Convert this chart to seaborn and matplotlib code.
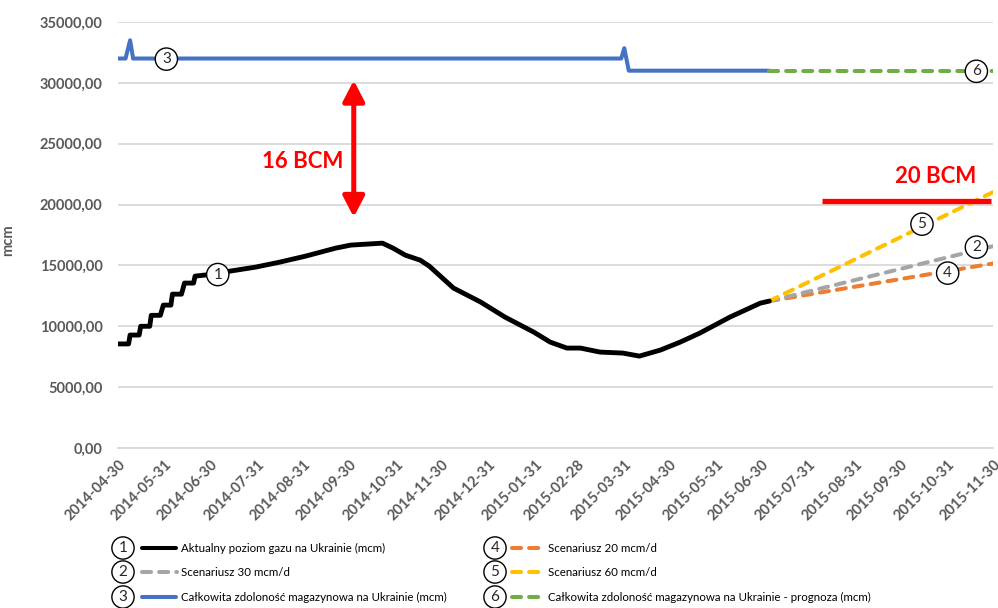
import matplotlib
matplotlib.use("Agg")
import matplotlib.pyplot as plt
from matplotlib.lines import Line2D
from matplotlib.ticker import FuncFormatter
import seaborn as sns
import pandas as pd

# ---------------- data ----------------
actual_dates = ['2014-04-30', '2014-05-07', '2014-05-08', '2014-05-14', '2014-05-15', '2014-05-21',
                '2014-05-22', '2014-05-28', '2014-05-30', '2014-06-04', '2014-06-05', '2014-06-11',
                '2014-06-13', '2014-06-19', '2014-06-20', '2014-07-03', '2014-07-13', '2014-07-30',
                '2014-08-15', '2014-09-01', '2014-09-21', '2014-10-01', '2014-10-22', '2014-10-29',
                '2014-11-06', '2014-11-16', '2014-11-22', '2014-12-08', '2014-12-26', '2015-01-11',
                '2015-01-30', '2015-02-10', '2015-02-21', '2015-03-02', '2015-03-15', '2015-03-30',
                '2015-04-10', '2015-04-24', '2015-05-07', '2015-05-20', '2015-06-09', '2015-06-29',
                '2015-07-05']
actual_values = [8550, 8550, 9280, 9280, 10000, 10000,
                 10900, 10900, 11740, 11740, 12640, 12640,
                 13550, 13550, 14120, 14300, 14530, 14860,
                 15270, 15760, 16420, 16670, 16830, 16420,
                 15850, 15430, 14940, 13140, 11990, 10760,
                 9530, 8700, 8210, 8210, 7880, 7800,
                 7550, 8050, 8700, 9440, 10760, 11900,
                 12070]

capacity_dates = ['2014-04-30', '2014-05-05', '2014-05-08', '2014-05-10', '2015-03-29',
                  '2015-03-31', '2015-04-03', '2015-07-05']
capacity_values = [32000, 32000, 33500, 32000, 32000, 32850, 31000, 31000]

forecast_dates = ['2015-07-05', '2015-11-30']
scen20_values = [12070, 15160]
scen30_values = [12070, 16580]
scen60_values = [12070, 21020]
capacity_fc_values = [31000, 31000]

tick_dates = ['2014-04-30', '2014-05-31', '2014-06-30', '2014-07-31', '2014-08-31', '2014-09-30',
              '2014-10-31', '2014-11-30', '2014-12-31', '2015-01-31', '2015-02-28', '2015-03-31',
              '2015-04-30', '2015-05-31', '2015-06-30', '2015-07-31', '2015-08-31', '2015-09-30',
              '2015-10-31', '2015-11-30']
y_ticks = [0, 5000, 10000, 15000, 20000, 25000, 30000, 35000]

legend_labels = ['Aktualny poziom gazu na Ukrainie (mcm)',
                 'Scenariusz 30 mcm/d',
                 'Całkowita zdoloność magazynowa na Ukrainie (mcm)',
                 'Scenariusz 20 mcm/d',
                 'Scenariusz 60 mcm/d',
                 'Całkowita zdoloność magazynowa na Ukrainie - prognoza (mcm)']

# ---------------- style ----------------
sns.set_style("white")
plt.rcParams['font.family'] = ['Lato', 'DejaVu Sans']

C_BLACK = '#000000'
C_GRAY = '#a5a5a5'
C_BLUE = '#4472c4'
C_ORANGE = '#ed7d31'
C_YELLOW = '#ffc000'
C_GREEN = '#70ad47'
C_TXT = '#595959'
C_GRID = '#d9d9d9'
LW = 2.9
DASH = (0, (2.25, 2.0))

W, H = 998, 608
fig = plt.figure(figsize=(W / 100, H / 100), dpi=100)
ax = fig.add_axes([118 / W, 1 - 448 / H, 875 / W, 426 / H])

def fx(px):
    return px / W

def fy(py):
    return 1 - py / H

df_act = pd.DataFrame({'date': pd.to_datetime(actual_dates), 'v': actual_values})
df_cap = pd.DataFrame({'date': pd.to_datetime(capacity_dates), 'v': capacity_values})
fd = pd.to_datetime(forecast_dates)
df_s20 = pd.DataFrame({'date': fd, 'v': scen20_values})
df_s30 = pd.DataFrame({'date': fd, 'v': scen30_values})
df_s60 = pd.DataFrame({'date': fd, 'v': scen60_values})
df_cfc = pd.DataFrame({'date': fd, 'v': capacity_fc_values})

common = dict(x='date', y='v', ax=ax, estimator=None, sort=False, legend=False)
sns.lineplot(data=df_cap, color=C_BLUE, lw=LW, solid_capstyle='round', solid_joinstyle='round', **common)
sns.lineplot(data=df_cfc, color=C_GREEN, lw=LW, linestyle=DASH, dash_capstyle='round', **common)
sns.lineplot(data=df_s20, color=C_ORANGE, lw=LW, linestyle=DASH, dash_capstyle='round', **common)
sns.lineplot(data=df_s30, color=C_GRAY, lw=LW, linestyle=DASH, dash_capstyle='round', **common)
sns.lineplot(data=df_s60, color=C_YELLOW, lw=LW, linestyle=DASH, dash_capstyle='round', **common)
sns.lineplot(data=df_act, color=C_BLACK, lw=3.5, solid_capstyle='round', solid_joinstyle='round', **common)

# ---------------- axes ----------------
ax.set_xlim(pd.Timestamp('2014-04-30'), pd.Timestamp('2015-11-30'))
ax.set_ylim(0, 35000)
ax.set_yticks(y_ticks)
ax.yaxis.set_major_formatter(FuncFormatter(lambda v, p: f"{v:.2f}".replace('.', ',')))
ax.set_xticks(pd.to_datetime(tick_dates))
ax.set_xticklabels(tick_dates)
ax.yaxis.grid(True, color=C_GRID, lw=1.3)
ax.xaxis.grid(False)
ax.set_axisbelow(True)
for s in ['left', 'right', 'top']:
    ax.spines[s].set_visible(False)
ax.spines['bottom'].set_color(C_GRID)
ax.spines['bottom'].set_linewidth(1.3)
ax.tick_params(axis='y', length=0, pad=11, labelsize=10.5, labelcolor=C_TXT)
ax.tick_params(axis='x', length=4, width=1.3, color=C_GRID, pad=3, labelsize=10.5, labelcolor=C_TXT,
               direction='out')
for lab in ax.get_yticklabels():
    lab.set_fontweight('bold')
for lab in ax.get_xticklabels():
    lab.set_fontweight('bold')
    lab.set_rotation(45)
    lab.set_ha('right')
    lab.set_va('top')
    lab.set_rotation_mode('anchor')
ax.set_xlabel('')
ax.set_ylabel('mcm', fontsize=10.5, fontweight='bold', color=C_TXT)
ax.yaxis.set_label_coords(-0.118, 0.488)

# ---------------- annotations ----------------
circ = dict(boxstyle='circle,pad=0.27', fc='white', ec='black', lw=1.0)
def num(x, y, s):
    ax.text(pd.Timestamp(x), y, s, ha='center', va='center', fontsize=11, bbox=circ, zorder=6)

num('2014-06-01', 31950, '3')
num('2014-07-05', 14250, '1')
num('2015-10-14', 18390, '5')
num('2015-11-19', 16500, '2')
num('2015-10-31', 14370, '4')
num('2015-11-19', 30950, '6')

ax.annotate('', xy=(pd.Timestamp('2014-10-03'), 30200), xytext=(pd.Timestamp('2014-10-03'), 18970),
            arrowprops=dict(arrowstyle='<|-|>,head_length=1.25,head_width=0.65', lw=3.6, color='red',
                            shrinkA=0, shrinkB=0, mutation_scale=10), zorder=5)
ax.text(pd.Timestamp('2014-08-30'), 23560, '16 BCM', color='red', fontsize=16, fontweight='bold',
        ha='center', va='center')
ax.text(pd.Timestamp('2015-10-23'), 22330, '20 BCM', color='red', fontsize=16, fontweight='bold',
        ha='center', va='center')
ax.plot([pd.Timestamp('2015-08-09'), pd.Timestamp('2015-11-29')], [20280, 20280], color='red', lw=3.8,
        solid_capstyle='butt', zorder=4)

# ---------------- legend (bottom) ----------------
# (circle x, line start x, text x, row y, number, colour, style, target text width)
legend_specs = [
    (123, 140, 181, 548, '1', C_BLACK, 'solid', 207),
    (123, 140, 181, 572, '2', C_GRAY, 'dash', 109),
    (123, 140, 181, 597, '3', C_BLUE, 'solid', 269),
    (495, 510, 548, 548, '4', C_ORANGE, 'dash', 105),
    (495, 510, 548, 572, '5', C_YELLOW, 'dash', 105),
    (495, 510, 548, 597, '6', C_GREEN, 'dash', 314),
]
texts = []
for i, (cx, lx, tx, yy, n, col, st, tw) in enumerate(legend_specs):
    fig.text(fx(cx), fy(yy), n, ha='center', va='center', fontsize=11, bbox=circ)
    if st == 'solid':
        ln = Line2D([fx(lx + 2), fx(tx - 5)], [fy(yy), fy(yy)], transform=fig.transFigure,
                    color=col, lw=LW, solid_capstyle='round')
    else:
        ln = Line2D([fx(lx + 2), fx(tx - 4)], [fy(yy), fy(yy)], transform=fig.transFigure,
                    color=col, lw=LW, linestyle=DASH, dash_capstyle='round')
    fig.add_artist(ln)
    t = fig.text(fx(tx), fy(yy), legend_labels[i], ha='left', va='center', fontsize=10, color='black')
    texts.append((t, tw))

fig.canvas.draw()
r = fig.canvas.get_renderer()
ratios = [tw / t.get_window_extent(r).width for t, tw in texts]
size = 10 * sorted(ratios)[len(ratios) // 2]
for t, tw in texts:
    t.set_fontsize(size)

fig.savefig('out.png', dpi=100)
